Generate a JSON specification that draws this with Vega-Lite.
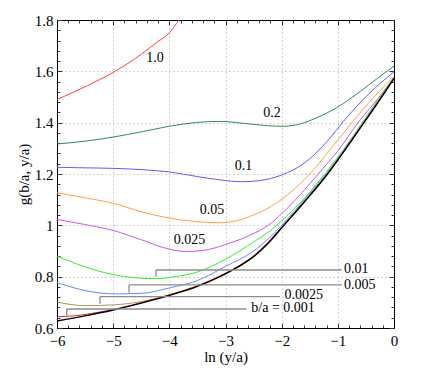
{
  "$schema": "https://vega.github.io/schema/vega-lite/v6.json",
  "width": 337,
  "height": 308,
  "autosize": {"type": "none"},
  "padding": {"top": 20, "left": 57, "right": 42, "bottom": 51},
  "background": "white",
  "config": {
    "view": {"stroke": "black", "strokeWidth": 1},
    "font": "Liberation Serif",
    "axis": {"labelFont": "Liberation Serif", "titleFont": "Liberation Serif", "labelFontSize": 15, "titleFontSize": 15, "titleFontWeight": "normal", "labelColor": "black", "titleColor": "black", "domainColor": "black", "tickColor": "#333", "tickWidth": 1}
  },
  "datasets": {
    "curves": [
      {"s": "1.0", "x": -6, "y": 1.49}, {"s": "1.0", "x": -5.5, "y": 1.54}, {"s": "1.0", "x": -5, "y": 1.596}, {"s": "1.0", "x": -4.6, "y": 1.651}, {"s": "1.0", "x": -4.4, "y": 1.683}, {"s": "1.0", "x": -4.2, "y": 1.716}, {"s": "1.0", "x": -4, "y": 1.75}, {"s": "1.0", "x": -3.83, "y": 1.8},
      {"s": "0.2", "x": -6, "y": 1.317}, {"s": "0.2", "x": -5.5, "y": 1.328}, {"s": "0.2", "x": -5, "y": 1.344}, {"s": "0.2", "x": -4.5, "y": 1.364}, {"s": "0.2", "x": -4, "y": 1.386}, {"s": "0.2", "x": -3.5, "y": 1.401}, {"s": "0.2", "x": -3.1, "y": 1.405}, {"s": "0.2", "x": -2.7, "y": 1.398}, {"s": "0.2", "x": -2.3, "y": 1.389}, {"s": "0.2", "x": -2, "y": 1.386}, {"s": "0.2", "x": -1.7, "y": 1.393}, {"s": "0.2", "x": -1.5, "y": 1.408}, {"s": "0.2", "x": -1.2, "y": 1.437}, {"s": "0.2", "x": -0.9, "y": 1.475}, {"s": "0.2", "x": -0.6, "y": 1.522}, {"s": "0.2", "x": -0.3, "y": 1.572}, {"s": "0.2", "x": 0, "y": 1.62},
      {"s": "0.1", "x": -6, "y": 1.226}, {"s": "0.1", "x": -5.5, "y": 1.224}, {"s": "0.1", "x": -5, "y": 1.222}, {"s": "0.1", "x": -4.5, "y": 1.217}, {"s": "0.1", "x": -4, "y": 1.208}, {"s": "0.1", "x": -3.5, "y": 1.19}, {"s": "0.1", "x": -3.1, "y": 1.177}, {"s": "0.1", "x": -2.7, "y": 1.17}, {"s": "0.1", "x": -2.4, "y": 1.174}, {"s": "0.1", "x": -2, "y": 1.196}, {"s": "0.1", "x": -1.6, "y": 1.242}, {"s": "0.1", "x": -1.2, "y": 1.325}, {"s": "0.1", "x": -0.9, "y": 1.405}, {"s": "0.1", "x": -0.45, "y": 1.512}, {"s": "0.1", "x": 0, "y": 1.598},
      {"s": "0.05", "x": -6, "y": 1.127}, {"s": "0.05", "x": -5.5, "y": 1.107}, {"s": "0.05", "x": -5, "y": 1.086}, {"s": "0.05", "x": -4.5, "y": 1.053}, {"s": "0.05", "x": -4, "y": 1.028}, {"s": "0.05", "x": -3.5, "y": 1.014}, {"s": "0.05", "x": -3.1, "y": 1.01}, {"s": "0.05", "x": -2.8, "y": 1.018}, {"s": "0.05", "x": -2.5, "y": 1.04}, {"s": "0.05", "x": -2.2, "y": 1.072}, {"s": "0.05", "x": -1.9, "y": 1.118}, {"s": "0.05", "x": -1.5, "y": 1.2}, {"s": "0.05", "x": -1.1, "y": 1.305}, {"s": "0.05", "x": -0.75, "y": 1.4}, {"s": "0.05", "x": -0.37, "y": 1.497}, {"s": "0.05", "x": 0, "y": 1.58},
      {"s": "0.025", "x": -6, "y": 1.023}, {"s": "0.025", "x": -5.5, "y": 1.003}, {"s": "0.025", "x": -5, "y": 0.98}, {"s": "0.025", "x": -4.5, "y": 0.944}, {"s": "0.025", "x": -4, "y": 0.907}, {"s": "0.025", "x": -3.7, "y": 0.898}, {"s": "0.025", "x": -3.4, "y": 0.902}, {"s": "0.025", "x": -3, "y": 0.925}, {"s": "0.025", "x": -2.6, "y": 0.958}, {"s": "0.025", "x": -2.24, "y": 1.0}, {"s": "0.025", "x": -2, "y": 1.045}, {"s": "0.025", "x": -1.67, "y": 1.12}, {"s": "0.025", "x": -1.35, "y": 1.2}, {"s": "0.025", "x": -1, "y": 1.29}, {"s": "0.025", "x": -0.64, "y": 1.4}, {"s": "0.025", "x": -0.3, "y": 1.49}, {"s": "0.025", "x": 0, "y": 1.575},
      {"s": "0.01", "x": -6, "y": 0.88}, {"s": "0.01", "x": -5.5, "y": 0.838}, {"s": "0.01", "x": -5, "y": 0.808}, {"s": "0.01", "x": -4.5, "y": 0.794}, {"s": "0.01", "x": -4.2, "y": 0.792}, {"s": "0.01", "x": -3.9, "y": 0.8}, {"s": "0.01", "x": -3.5, "y": 0.818}, {"s": "0.01", "x": -3, "y": 0.868}, {"s": "0.01", "x": -2.5, "y": 0.935}, {"s": "0.01", "x": -2.2, "y": 0.98}, {"s": "0.01", "x": -2.09, "y": 1.0}, {"s": "0.01", "x": -1.8, "y": 1.06}, {"s": "0.01", "x": -1.6, "y": 1.105}, {"s": "0.01", "x": -1.2, "y": 1.21}, {"s": "0.01", "x": -0.9, "y": 1.295}, {"s": "0.01", "x": -0.55, "y": 1.405}, {"s": "0.01", "x": -0.25, "y": 1.5}, {"s": "0.01", "x": 0, "y": 1.578},
      {"s": "0.005", "x": -6, "y": 0.777}, {"s": "0.005", "x": -5.5, "y": 0.746}, {"s": "0.005", "x": -5, "y": 0.733}, {"s": "0.005", "x": -4.5, "y": 0.735}, {"s": "0.005", "x": -4, "y": 0.756}, {"s": "0.005", "x": -3.5, "y": 0.785}, {"s": "0.005", "x": -3, "y": 0.84}, {"s": "0.005", "x": -2.5, "y": 0.9}, {"s": "0.005", "x": -2.2, "y": 0.955}, {"s": "0.005", "x": -2, "y": 1.0}, {"s": "0.005", "x": -1.6, "y": 1.1}, {"s": "0.005", "x": -1.2, "y": 1.203}, {"s": "0.005", "x": -0.9, "y": 1.29}, {"s": "0.005", "x": -0.55, "y": 1.4}, {"s": "0.005", "x": -0.25, "y": 1.495}, {"s": "0.005", "x": 0, "y": 1.576},
      {"s": "0.0025", "x": -6, "y": 0.701}, {"s": "0.0025", "x": -5.5, "y": 0.687}, {"s": "0.0025", "x": -5, "y": 0.69}, {"s": "0.0025", "x": -4.5, "y": 0.703}, {"s": "0.0025", "x": -4, "y": 0.729}, {"s": "0.0025", "x": -3.5, "y": 0.765}, {"s": "0.0025", "x": -3.1, "y": 0.802}, {"s": "0.0025", "x": -2.5, "y": 0.881}, {"s": "0.0025", "x": -2, "y": 0.993}, {"s": "0.0025", "x": -1.6, "y": 1.093}, {"s": "0.0025", "x": -1.2, "y": 1.198}, {"s": "0.0025", "x": -0.9, "y": 1.288}, {"s": "0.0025", "x": -0.55, "y": 1.398}, {"s": "0.0025", "x": -0.25, "y": 1.492}, {"s": "0.0025", "x": 0, "y": 1.574},
      {"s": "0.001", "x": -6, "y": 0.644}, {"s": "0.001", "x": -5.7, "y": 0.647}, {"s": "0.001", "x": -5.4, "y": 0.656}, {"s": "0.001", "x": -5, "y": 0.672}, {"s": "0.001", "x": -4.5, "y": 0.699}, {"s": "0.001", "x": -4, "y": 0.729}, {"s": "0.001", "x": -3.5, "y": 0.764}, {"s": "0.001", "x": -3.1, "y": 0.802}, {"s": "0.001", "x": -2.8, "y": 0.837}, {"s": "0.001", "x": -2.5, "y": 0.88}, {"s": "0.001", "x": -2.2, "y": 0.942}, {"s": "0.001", "x": -2, "y": 0.992}, {"s": "0.001", "x": -1.6, "y": 1.092}, {"s": "0.001", "x": -1.2, "y": 1.197}, {"s": "0.001", "x": -0.9, "y": 1.287}, {"s": "0.001", "x": -0.55, "y": 1.397}, {"s": "0.001", "x": -0.25, "y": 1.492}, {"s": "0.001", "x": 0, "y": 1.574},
      {"s": "0", "x": -6, "y": 0.627}, {"s": "0", "x": -5.5, "y": 0.647}, {"s": "0", "x": -5, "y": 0.67}, {"s": "0", "x": -4.5, "y": 0.697}, {"s": "0", "x": -4, "y": 0.727}, {"s": "0", "x": -3.5, "y": 0.762}, {"s": "0", "x": -3.1, "y": 0.8}, {"s": "0", "x": -2.8, "y": 0.835}, {"s": "0", "x": -2.5, "y": 0.878}, {"s": "0", "x": -2.2, "y": 0.94}, {"s": "0", "x": -2, "y": 0.99}, {"s": "0", "x": -1.6, "y": 1.09}, {"s": "0", "x": -1.2, "y": 1.195}, {"s": "0", "x": -0.9, "y": 1.285}, {"s": "0", "x": -0.55, "y": 1.395}, {"s": "0", "x": -0.25, "y": 1.49}, {"s": "0", "x": 0, "y": 1.572}
    ],
    "callouts": [
      {"label": "0.01", "xv": -4.237, "x2": -0.931, "yh": 0.826, "yv": 0.8, "xl": -0.89, "yl": 0.828},
      {"label": "0.005", "xv": -4.718, "x2": -0.931, "yh": 0.768, "yv": 0.737, "xl": -0.89, "yl": 0.767},
      {"label": "0.0025", "xv": -5.234, "x2": -2.03, "yh": 0.722, "yv": 0.6935, "xl": -1.95, "yl": 0.7295},
      {"label": "b/a = 0.001", "xv": -5.827, "x2": -2.623, "yh": 0.674, "yv": 0.6417, "xl": -2.54, "yl": 0.677}
    ],
    "curveLabels": [
      {"label": "1.0", "x": -4.255, "y": 1.652},
      {"label": "0.2", "x": -2.172, "y": 1.438},
      {"label": "0.1", "x": -2.68, "y": 1.231},
      {"label": "0.05", "x": -3.24, "y": 1.06},
      {"label": "0.025", "x": -3.641, "y": 0.943}
    ]
  },
  "resolve": {"axis": {"x": "independent", "y": "independent"}},
  "layer": [
    {
      "data": {"name": "curves"},
      "transform": [{"filter": "datum.s !== '0'"}],
      "mark": {"type": "line", "interpolate": "monotone", "strokeWidth": 1, "clip": true},
      "encoding": {
        "x": {"field": "x", "type": "quantitative", "scale": {"domain": [-6, 0], "nice": false, "zero": false},
          "axis": {"orient": "bottom", "title": "ln (y/a)", "titlePadding": -1, "labelPadding": 10,
            "values": [-6, -5.8, -5.6, -5.4, -5.2, -5, -4.8, -4.6, -4.4, -4.2, -4, -3.8, -3.6, -3.4, -3.2, -3, -2.8, -2.6, -2.4, -2.2, -2, -1.8, -1.6, -1.4, -1.2, -1, -0.8, -0.6, -0.4, -0.2, 0],
            "labelExpr": "abs(datum.value - round(datum.value)) < 1e-6 ? format(datum.value, '~g') : ''",
            "tickSize": {"condition": {"test": "abs(datum.value - round(datum.value)) < 1e-6", "value": -5}, "value": -3},
            "grid": true, "gridDash": [1, 3], "gridColor": "#aaaaaa", "gridWidth": 1,
            "gridOpacity": {"condition": {"test": "abs(datum.value - round(datum.value)) < 1e-6", "value": 1}, "value": 0},
            "labelFlush": false, "labelOverlap": false}},
        "y": {"field": "y", "type": "quantitative", "scale": {"domain": [0.6, 1.8], "nice": false, "zero": false},
          "axis": {"orient": "left", "title": "g(b/a, y/a)", "titlePadding": 3, "labelPadding": 9,
            "values": [0.6, 0.64, 0.68, 0.72, 0.76, 0.8, 0.84, 0.88, 0.92, 0.96, 1, 1.04, 1.08, 1.12, 1.16, 1.2, 1.24, 1.28, 1.32, 1.36, 1.4, 1.44, 1.48, 1.52, 1.56, 1.6, 1.64, 1.68, 1.72, 1.76, 1.8],
            "labelExpr": "abs(datum.value*5 - round(datum.value*5)) < 1e-6 ? format(datum.value, '~g') : ''",
            "tickSize": {"condition": {"test": "abs(datum.value*5 - round(datum.value*5)) < 1e-6", "value": -5}, "value": -3},
            "grid": true, "gridDash": [1, 3], "gridColor": "#aaaaaa", "gridWidth": 1,
            "gridOpacity": {"condition": {"test": "abs(datum.value*5 - round(datum.value*5)) < 1e-6", "value": 1}, "value": 0},
            "labelFlush": false, "labelOverlap": false}},
        "color": {"field": "s", "type": "nominal", "legend": null,
          "scale": {"domain": ["1.0", "0.2", "0.1", "0.05", "0.025", "0.01", "0.005", "0.0025", "0.001"],
            "range": ["#ff4040", "#2e8b57", "#6a55ff", "#ffa040", "#cc55ee", "#33ee33", "#6688ff", "#aa9955", "#e02020"]}}
      }
    },
    {
      "data": {"name": "curves"},
      "transform": [{"filter": "datum.s === '0'"}],
      "mark": {"type": "line", "interpolate": "monotone", "strokeWidth": 1.4, "color": "black", "clip": true},
      "encoding": {
        "x": {"field": "x", "type": "quantitative", "scale": {"domain": [-6, 0], "nice": false, "zero": false}, "axis": null},
        "y": {"field": "y", "type": "quantitative", "scale": {"domain": [0.6, 1.8], "nice": false, "zero": false}, "axis": null}
      }
    },
    {
      "data": {"name": "callouts"},
      "mark": {"type": "rule", "color": "#8c8c8c", "strokeWidth": 1.3},
      "encoding": {
        "x": {"field": "xv", "type": "quantitative", "scale": {"domain": [-6, 0], "nice": false, "zero": false},
          "axis": {"orient": "top", "title": null, "labels": false, "grid": false, "domain": true,
            "values": [-6, -5.8, -5.6, -5.4, -5.2, -5, -4.8, -4.6, -4.4, -4.2, -4, -3.8, -3.6, -3.4, -3.2, -3, -2.8, -2.6, -2.4, -2.2, -2, -1.8, -1.6, -1.4, -1.2, -1, -0.8, -0.6, -0.4, -0.2, 0],
            "tickSize": {"condition": {"test": "abs(datum.value - round(datum.value)) < 1e-6", "value": -5}, "value": -3}}},
        "x2": {"field": "x2"},
        "y": {"field": "yh", "type": "quantitative", "scale": {"domain": [0.6, 1.8], "nice": false, "zero": false},
          "axis": {"orient": "right", "title": null, "labels": false, "grid": false, "domain": true,
            "values": [0.6, 0.64, 0.68, 0.72, 0.76, 0.8, 0.84, 0.88, 0.92, 0.96, 1, 1.04, 1.08, 1.12, 1.16, 1.2, 1.24, 1.28, 1.32, 1.36, 1.4, 1.44, 1.48, 1.52, 1.56, 1.6, 1.64, 1.68, 1.72, 1.76, 1.8],
            "tickSize": {"condition": {"test": "abs(datum.value*5 - round(datum.value*5)) < 1e-6", "value": -5}, "value": -3}}}
      }
    },
    {
      "data": {"name": "callouts"},
      "mark": {"type": "rule", "color": "#8c8c8c", "strokeWidth": 1.3},
      "encoding": {
        "x": {"field": "xv", "type": "quantitative", "axis": null},
        "y": {"field": "yh", "type": "quantitative", "axis": null},
        "y2": {"field": "yv"}
      }
    },
    {
      "data": {"name": "callouts"},
      "mark": {"type": "text", "align": "left", "baseline": "middle", "font": "Liberation Serif", "fontSize": 14, "color": "black"},
      "encoding": {
        "x": {"field": "xl", "type": "quantitative", "axis": null},
        "y": {"field": "yl", "type": "quantitative", "axis": null},
        "text": {"field": "label"}
      }
    },
    {
      "data": {"name": "curveLabels"},
      "mark": {"type": "text", "align": "center", "baseline": "middle", "font": "Liberation Serif", "fontSize": 14, "color": "black"},
      "encoding": {
        "x": {"field": "x", "type": "quantitative", "axis": null},
        "y": {"field": "y", "type": "quantitative", "axis": null},
        "text": {"field": "label"}
      }
    }
  ]
}
